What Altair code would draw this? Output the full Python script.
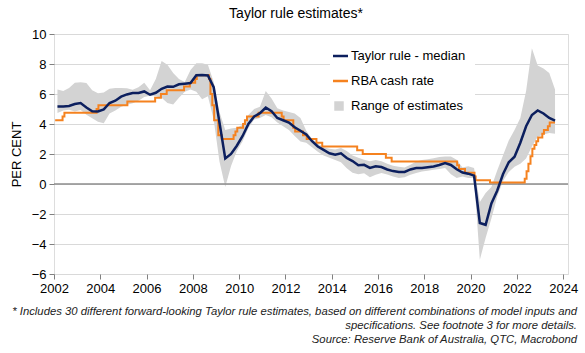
import altair as alt
import pandas as pd

# ---------------- data ----------------
# Taylor rule estimates, quarterly, first point 2002.15, one point per quarter
quarter_start = 2002.15
median = [5.17, 5.17, 5.2, 5.33,
          5.4, 5.1, 4.85, 4.84,
          4.97, 5.4, 5.55, 5.82,
          5.97, 6.06, 6.07, 6.17,
          5.95, 6.08, 6.35, 6.5,
          6.48, 6.65, 6.69, 6.73,
          7.25, 7.27, 7.24, 6.45,
          4.1, 1.7, 2.0, 2.55,
          3.2, 4.0, 4.5, 4.72,
          5.1, 4.85, 4.4, 4.25,
          4.1, 3.78, 3.55, 3.3,
          2.85, 2.5, 2.28, 2.05,
          1.95, 2.05, 1.73, 1.53,
          1.25, 1.28, 1.07, 1.18,
          1.13, 0.97, 0.86, 0.8,
          0.8, 0.97, 1.07, 1.07,
          1.12, 1.17, 1.27, 1.4,
          1.27, 0.98, 0.76, 0.69,
          0.56, -2.6, -2.72, -1.3,
          -0.45, 0.65, 1.45, 1.82,
          2.75, 3.85, 4.6, 4.9,
          4.7, 4.4, 4.22]
range_high = [6.3, 6.2, 6.4, 6.75,
              6.78, 6.73, 6.25, 6.05,
              6.1, 6.35, 6.4, 6.4,
              6.38, 6.28, 6.45, 6.75,
              6.25, 7.0, 8.2, 7.95,
              7.4, 7.0, 6.8, 7.6,
              8.05, 8.05, 7.95, 6.8,
              4.8, 3.6, 3.7, 3.75,
              3.95, 4.6, 5.0, 5.15,
              6.2, 5.7, 5.05, 4.9,
              4.8, 4.7, 4.4, 3.55,
              3.0, 2.7, 2.45, 2.35,
              2.3, 2.4, 2.2, 1.9,
              1.75, 1.62, 1.52, 1.6,
              1.52, 1.35, 1.22, 1.15,
              1.1, 1.29, 1.5, 1.6,
              1.65, 1.72, 1.8, 1.84,
              1.84, 1.62, 1.1, 1.18,
              1.07, -1.2, -0.6, -0.2,
              0.9, 1.9, 2.9, 3.6,
              4.4, 6.2, 9.05, 7.9,
              7.7, 7.4, 6.3]
range_low = [4.73, 4.9, 4.95, 4.84,
             4.93, 4.62, 4.38, 4.15,
             4.05, 4.7, 4.9, 5.15,
             5.29, 5.38, 5.55, 5.8,
             5.88, 5.85, 5.75, 5.4,
             5.3, 5.75, 6.15, 6.3,
             6.15, 5.65, 5.85, 4.3,
             1.5, -0.2, 1.2, 2.2,
             2.85, 3.73, 4.3, 4.4,
             4.6, 4.45, 4.1, 3.85,
             3.6, 3.2, 2.84, 2.75,
             2.45, 2.15, 1.9, 1.75,
             1.6, 1.45, 1.05, 0.75,
             0.65, 0.72, 0.45, 0.62,
             0.73, 0.63, 0.5, 0.4,
             0.45, 0.62, 0.73, 0.84,
             0.88, 0.95, 1.0, 1.07,
             0.65, 0.4, 0.5, 0.4,
             0.4, -5.05, -3.6, -2.3,
             -0.85, 0.2, 0.8, 1.15,
             1.35, 1.7, 2.5, 3.15,
             3.3, 3.4, 3.35]

# RBA cash rate: dates of changes (decimal years) and new level
cash_dates = [2002.05, 2002.37, 2002.45, 2003.84, 2003.92, 2005.17,
              2006.37, 2006.62, 2006.87, 2007.62, 2007.87, 2008.1, 2008.17,
              2008.7, 2008.76, 2008.84, 2008.92, 2009.1, 2009.25,
              2009.76, 2009.84, 2009.92, 2010.17, 2010.25, 2010.34, 2010.84,
              2011.84, 2011.92, 2012.34, 2012.42, 2012.76, 2012.92,
              2013.34, 2013.59, 2015.1, 2015.34, 2016.34, 2016.59,
              2019.42, 2019.5, 2019.76, 2020.17, 2020.22, 2020.84,
              2022.34, 2022.42, 2022.5, 2022.59, 2022.67, 2022.76, 2022.84,
              2022.92, 2023.1, 2023.17, 2023.34, 2023.42, 2023.65]
cash_rate = [4.25, 4.5, 4.75, 5.0, 5.25, 5.5,
             5.75, 6.0, 6.25, 6.5, 6.75, 7.0, 7.25,
             7.0, 6.0, 5.25, 4.25, 3.25, 3.0,
             3.25, 3.5, 3.75, 4.0, 4.25, 4.5, 4.75,
             4.5, 4.25, 3.75, 3.5, 3.25, 3.0,
             2.75, 2.5, 2.25, 2.0, 1.75, 1.5,
             1.25, 1.0, 0.75, 0.5, 0.25, 0.1,
             0.35, 0.85, 1.35, 1.85, 2.35, 2.6, 2.85,
             3.1, 3.35, 3.6, 3.85, 4.1, 4.1]

x_ticks = [2002, 2004, 2006, 2008, 2010, 2012, 2014, 2016, 2018, 2020, 2022, 2024]
y_ticks = [-6, -4, -2, 0, 2, 4, 6, 8, 10]

title_text = "Taylor rule estimates*"
y_title = "PER CENT"
legend_labels = ["Taylor rule - median", "RBA cash rate", "Range of estimates"]
footnote_lines = [
    "* Includes 30 different forward-looking Taylor rule estimates, based on different combinations of model inputs and",
    "specifications. See footnote 3 for more details.",
    "Source: Reserve Bank of Australia, QTC, Macrobond",
]

# ---------------- build ----------------
NAVY = "#0c1f5e"
ORANGE = "#f5821f"
BAND = "#d3d3d3"
GRID = "#d9d9d9"
FONT = "Liberation Sans"

dates = [round(quarter_start + 0.25 * i, 3) for i in range(len(median))]
taylor = pd.DataFrame({"date": dates, "median": median,
                       "low": range_low, "high": range_high})
cash = pd.DataFrame({"date": cash_dates, "rate": cash_rate})

W, H = 514, 240
xscale = alt.Scale(domain=[2002, 2024.21], nice=False, zero=False)
yscale = alt.Scale(domain=[-6, 10], nice=False, zero=False)

xaxis = alt.Axis(values=x_ticks, tickCount=20, format="d", grid=False,
                 domain=False, tickColor="#808080", tickSize=5,
                 labelFontSize=13, labelColor="#000000", labelPadding=3,
                 labelFont=FONT, title=None, labelFlush=False,
                 labelOverlap=False)
yaxis = alt.Axis(values=y_ticks, tickCount=20, grid=True, gridColor=GRID,
                 domain=False, tickColor="#808080", tickSize=5,
                 labelFontSize=13, labelColor="#000000", labelPadding=3,
                 labelFont=FONT, labelOverlap=False, labelFlush=False,
                 format="d", title=y_title, titleFontSize=13,
                 titleFontWeight="normal", titleFont=FONT,
                 titleColor="#000000", titlePadding=8)

band = alt.Chart(taylor).mark_area(color=BAND, opacity=1).encode(
    x=alt.X("date:Q", scale=xscale, axis=xaxis),
    y=alt.Y("low:Q", scale=yscale, axis=yaxis),
    y2="high:Q",
)
zero = alt.Chart(pd.DataFrame({"v": [0]})).mark_rule(
    color="#8c8c8c", strokeWidth=1.5).encode(
    y=alt.Y("v:Q", scale=yscale, axis=yaxis))
cash_line = alt.Chart(cash).mark_line(
    color=ORANGE, strokeWidth=2, interpolate="step-after").encode(
    x=alt.X("date:Q", scale=xscale, axis=xaxis),
    y=alt.Y("rate:Q", scale=yscale, axis=yaxis))
med_line = alt.Chart(taylor).mark_line(color=NAVY, strokeWidth=2.5).encode(
    x=alt.X("date:Q", scale=xscale, axis=xaxis),
    y=alt.Y("median:Q", scale=yscale, axis=yaxis))

# legend (white box with symbols and labels)
one = pd.DataFrame({"a": [0]})
leg_box = alt.Chart(one).mark_rect(color="white").encode(
    x=alt.value(276), x2=alt.value(421), y=alt.value(6), y2=alt.value(86))
leg_med = alt.Chart(one).mark_rule(color=NAVY, strokeWidth=2.5).encode(
    x=alt.value(279), x2=alt.value(294), y=alt.value(22))
leg_cash = alt.Chart(one).mark_rule(color=ORANGE, strokeWidth=2.5).encode(
    x=alt.value(279), x2=alt.value(294), y=alt.value(47))
leg_band = alt.Chart(one).mark_square(color=BAND, opacity=1, size=90).encode(
    x=alt.value(285), y=alt.value(72))
leg_texts = [
    alt.Chart(one).mark_text(text=lab, align="left", baseline="middle",
                             fontSize=13, font=FONT, color="#000000").encode(
        x=alt.value(297), y=alt.value(yy))
    for lab, yy in zip(legend_labels, [22, 47, 72])
]

title = alt.Chart(one).mark_text(text=title_text, align="center",
                                 baseline="middle", fontSize=14, font=FONT,
                                 color="#000000").encode(
    x=alt.value(242), y=alt.value(-20))
foot = [
    alt.Chart(one).mark_text(text=line, align="right", baseline="middle",
                             fontSize=11.3, font=FONT, fontStyle="italic",
                             color="#222222").encode(
        x=alt.value(523), y=alt.value(yy))
    for line, yy in zip(footnote_lines, [278, 292, 306])
]

chart = alt.layer(band, zero, cash_line, med_line, leg_box, leg_med, leg_cash,
                  leg_band, *leg_texts, title, *foot).properties(
    width=W, height=H,
    autosize=alt.AutoSizeParams(type="none"),
    padding={"left": 54, "top": 34, "right": 17, "bottom": 79},
).configure_view(stroke=GRID, strokeWidth=1).configure(font=FONT)

chart.save("out.html", embed_options={"renderer": "svg", "actions": False})
